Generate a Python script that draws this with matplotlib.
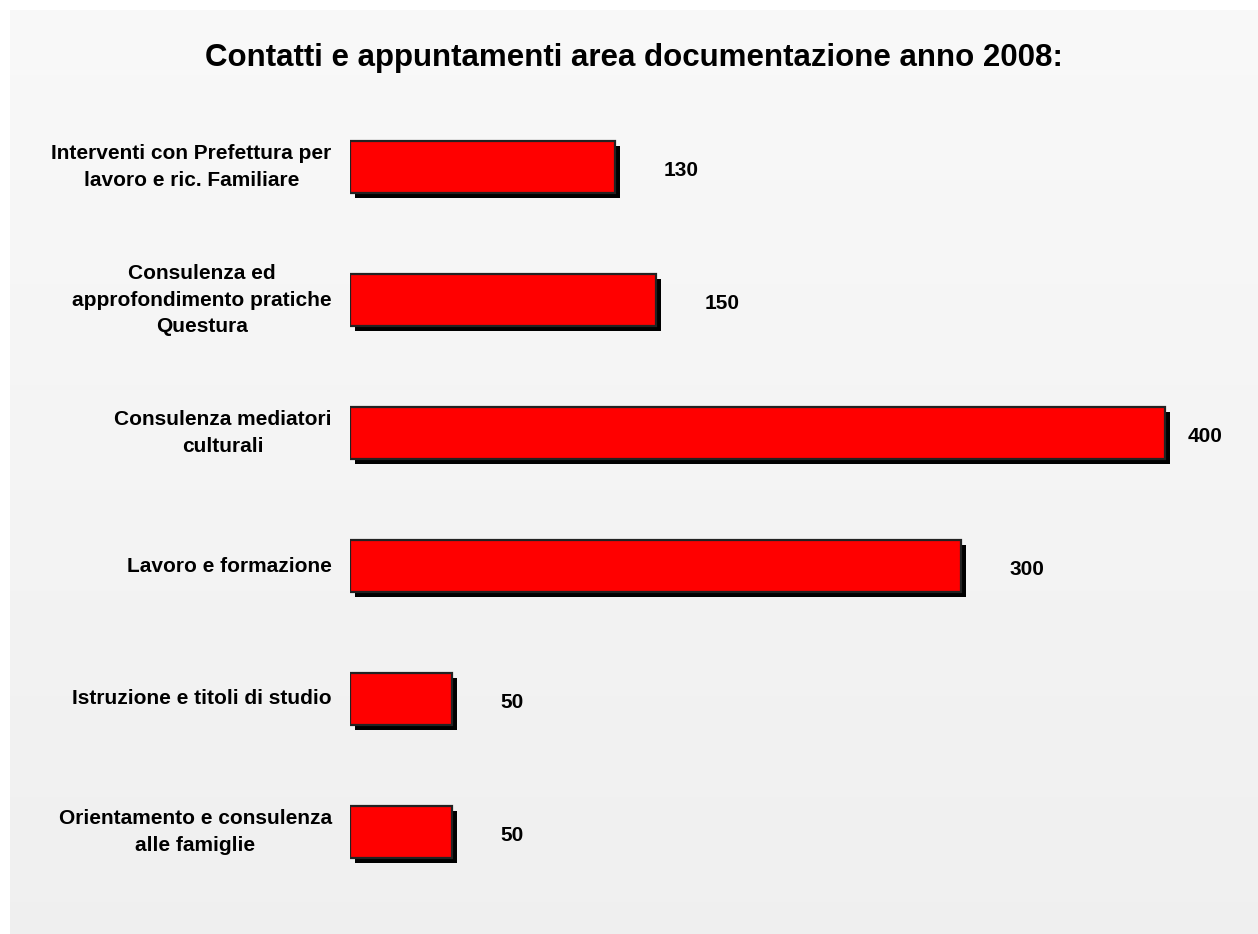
import numpy as np
import matplotlib
matplotlib.use("Agg")
import matplotlib.pyplot as plt
import matplotlib.transforms as mtransforms

# Data
TITLE = "Contatti e appuntamenti area documentazione anno 2008:"
categories = [
    "Interventi con Prefettura per\nlavoro e ric. Familiare",
    "Consulenza ed\napprofondimento pratiche\nQuestura",
    "Consulenza mediatori\nculturali",
    "Lavoro e formazione",
    "Istruzione e titoli di studio",
    "Orientamento e consulenza\nalle famiglie",
]
values = [130, 150, 400, 300, 50, 50]

W, H = 1258, 934
DPI = 100
plt.rcParams['font.family'] = ['Liberation Sans', 'DejaVu Sans']

fig = plt.figure(figsize=(W / DPI, H / DPI), dpi=DPI, facecolor="white")

# background panel with a light vertical gradient
bg = fig.add_axes([10 / W, 0, (W - 10) / W, (H - 10) / H], zorder=0)
grad = np.linspace(0.975, 0.94, 256).reshape(-1, 1)
bg.imshow(np.dstack([grad, grad, grad]), aspect="auto", extent=[0, 1, 0, 1])
bg.set_axis_off()

# chart area
x0_px = 350
px_per_unit = 2.037
xmax = 440
ax = fig.add_axes([x0_px / W, 1 - 898.5 / H, xmax * px_per_unit / W, 798 / H], zorder=1)
ax.patch.set_visible(False)

ypos = np.arange(len(values))
bar_h = 0.39

# black drop shadow, 5px right / 5px down
shadow_tr = mtransforms.offset_copy(ax.transData, fig=fig, x=5, y=-5, units="dots")
ax.barh(ypos, values, height=bar_h, color="black", edgecolor="none",
        transform=shadow_tr, zorder=2)
ax.barh(ypos, values, height=bar_h, color="#ff0000", edgecolor="#222222",
        linewidth=1.6, zorder=3)

for y, v in zip(ypos, values):
    ax.text(min(v + 24, 411), y + 0.03, str(v), ha="left", va="center",
            fontsize=15, fontweight="bold", color="black")

for y, lab in zip(ypos, categories):
    ax.text(-9, y, lab, ha="right", va="center", multialignment="center",
            fontsize=15, fontweight="bold", color="black", linespacing=1.53)

ax.set_xlim(0, xmax)
ax.set_ylim(len(values) - 0.5, -0.5)
ax.set_axis_off()

fig.text(634 / W, 1 - 66 / H, TITLE, ha="center", va="baseline",
         fontsize=22.5, fontweight="bold", color="black")

fig.savefig("out.png", dpi=DPI, facecolor="white")
